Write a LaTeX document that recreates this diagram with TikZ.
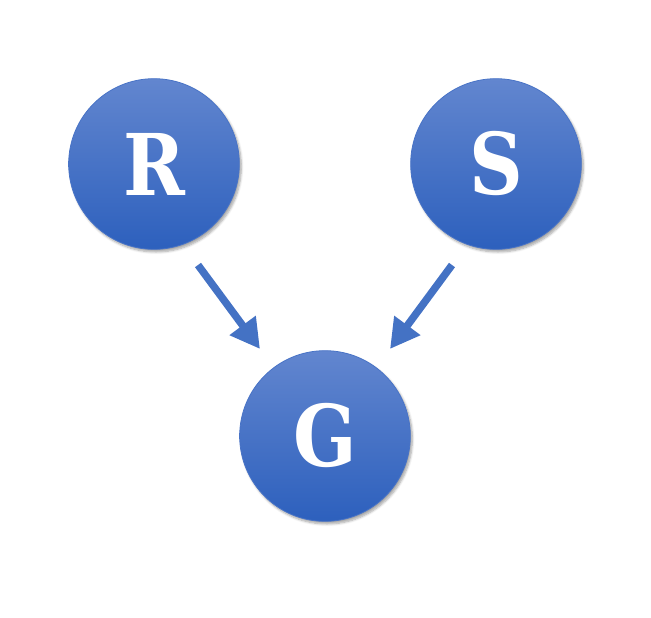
\documentclass[tikz,border=0pt]{standalone}
\usepackage{fontspec}
\newfontfamily\slab{DejaVu Serif}
\usetikzlibrary{arrows.meta,shadows.blur}
\definecolor{topblue}{HTML}{6286CF}
\definecolor{botblue}{HTML}{2D60BD}
\definecolor{midblue}{HTML}{4873C6}
\definecolor{arrowblue}{HTML}{4472C4}
\tikzset{
  ball/.style={circle, minimum size=128pt, inner sep=0pt, top color=topblue, bottom color=botblue,
    draw=midblue, line width=0.6pt,
    blur shadow={shadow xshift=1.5pt, shadow yshift=-2pt, shadow blur steps=6, shadow opacity=35},
    text=white, font=\slab\bfseries\fontsize{62}{62}\selectfont},
  link/.style={arrowblue, line width=5.6pt, -{Triangle[length=22pt, width=23pt]}}
}
\begin{document}
\begin{tikzpicture}[x=0.75pt,y=-0.75pt]
\useasboundingbox (0,0) rectangle (651,618);
\node[ball] (R) at (154,164) {\scalebox{0.9}[1.03]{R}};
\node[ball] (S) at (496,164) {\scalebox{0.9}[1.03]{S}};
\node[ball] (G) at (325,436) {\scalebox{0.9}[1.03]{G}};
\coordinate (r1) at (198,265);
\coordinate (r2) at (260,349);
\coordinate (s1) at (452,265);
\coordinate (s2) at (390,349);
\draw[link] (r1) -- (r2);
\draw[link] (s1) -- (s2);
\end{tikzpicture}
\end{document}
